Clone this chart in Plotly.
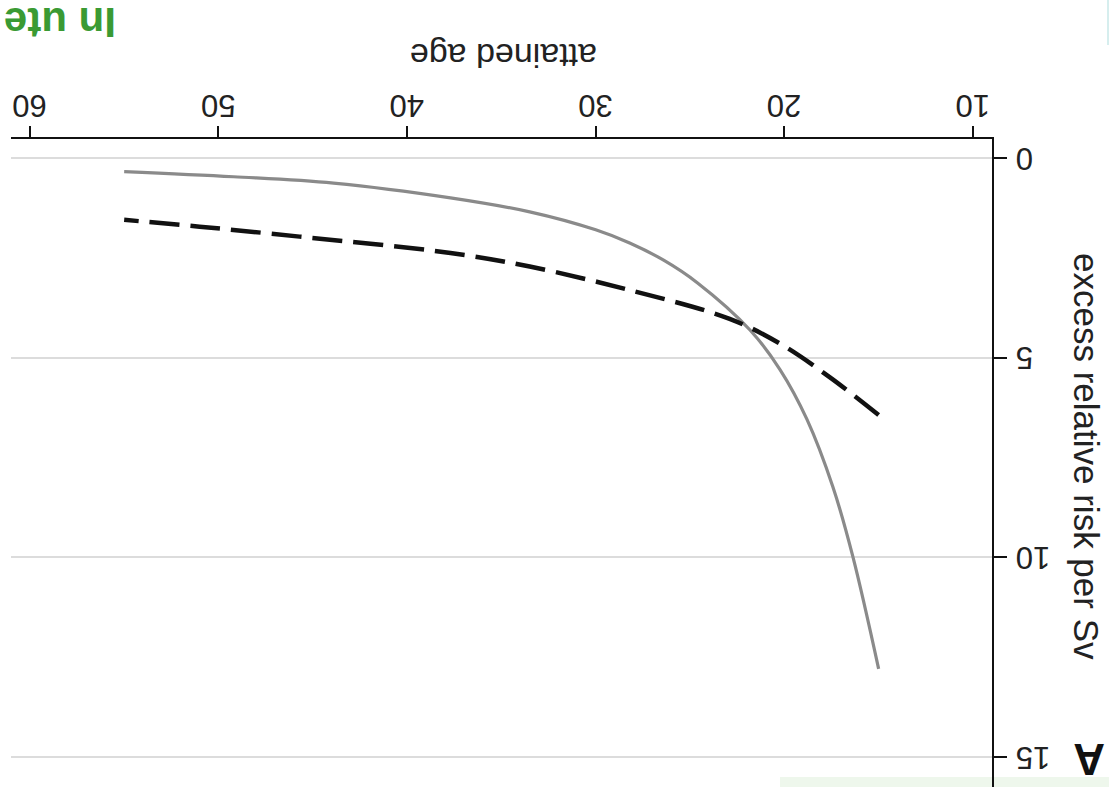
import plotly.graph_objects as go

# Data read from the (180°-rotated) reference chart
solid_age = [15.0, 16.36, 17.42, 18.8, 20.23, 21.82, 24.6, 26.4, 28.2, 30.0, 33.5, 37.7, 43.9, 49.2, 55.0]
solid_err = [12.8, 10.0, 8.25, 6.55, 5.30, 4.31, 3.13, 2.56, 2.13, 1.80, 1.35, 1.00, 0.63, 0.47, 0.34]

dashed_age = [15.0, 17.6, 20.2, 22.9, 28.2, 33.5, 37.7, 45.7, 51.0, 55.0]
dashed_err = [6.44, 5.49, 4.66, 4.03, 3.31, 2.72, 2.38, 1.97, 1.72, 1.55]

x_ticks = [10, 20, 30, 40, 50, 60]
x_tick_labels = ["10", "20", "30", "40", "50", "60"]
y_ticks = [0, 5, 10, 15]
y_tick_labels = ["0", "5", "10", "15"]

x_title = "attained age"
y_title = "excess relative risk per Sv"
corner_label = "In ute"
panel_label = "A"

W, H = 1109, 787
L, R, T, B = 11, 992, 139, 787  # plot area in pixels


def px(xp):
    return (xp - L) / (R - L)


def py(yp):
    return (B - yp) / (B - T)


FONT = "Liberation Sans, Arial, sans-serif"

fig = go.Figure()
fig.add_trace(go.Scatter(x=solid_age, y=solid_err, mode="lines",
                         line=dict(color="#8a8a8a", width=3.2, shape="spline", smoothing=1.0),
                         showlegend=False))
fig.add_trace(go.Scatter(x=dashed_age, y=dashed_err, mode="lines",
                         line=dict(color="#111111", width=4.5, dash="30px,11px", shape="spline", smoothing=1.0),
                         showlegend=False))

tickfont = dict(family=FONT, size=31, color="#222222")
# pad single digit labels with a figure space so all labels share one width
y_text = [t if len(t) == 2 else "\u2007" + t for t in y_tick_labels]

fig.update_layout(
    width=W, height=H,
    margin=dict(l=L, r=W - R, t=T, b=H - B, pad=0, autoexpand=False),
    paper_bgcolor="white", plot_bgcolor="white",
    xaxis=dict(side="top", range=[61.0, 8.99], tickvals=x_ticks, ticktext=x_tick_labels,
               ticks="outside", ticklen=11, tickwidth=2, tickcolor="#111",
               showline=True, linecolor="#111", linewidth=2,
               showgrid=False, zeroline=False, tickangle=180,
               ticklabelshift=-17, ticklabelstandoff=-12, ticklabeloverflow="allow",
               tickfont=tickfont, automargin=False),
    yaxis=dict(side="right", range=[15.76, -0.476], tickvals=y_ticks, ticktext=y_text,
               ticks="outside", ticklen=13, tickwidth=2, tickcolor="#111",
               showline=True, linecolor="#111", linewidth=2,
               showgrid=True, gridcolor="#dcdcdc", gridwidth=2,
               zeroline=False, tickangle=180,
               ticklabelshift=-10, ticklabelstandoff=37, ticklabeloverflow="allow",
               tickfont=tickfont, automargin=False),
)

fig.add_annotation(text=x_title, xref="paper", yref="paper", x=px(503), y=py(56),
                   xanchor="center", yanchor="middle",
                   showarrow=False, textangle=180,
                   font=dict(family=FONT, size=34, color="#222"))
fig.add_annotation(text=y_title, xref="paper", yref="paper", x=px(1086), y=py(456),
                   xanchor="center", yanchor="middle",
                   showarrow=False, textangle=90,
                   font=dict(family=FONT, size=35, color="#222"))
fig.add_annotation(text="<b>%s</b>" % corner_label, xref="paper", yref="paper", x=px(60), y=py(22),
                   xanchor="center", yanchor="middle",
                   showarrow=False, textangle=180,
                   font=dict(family=FONT, size=42, color="#3a9a33"))
fig.add_annotation(text="<b>%s</b>" % panel_label, xref="paper", yref="paper", x=px(1089), y=py(760),
                   xanchor="center", yanchor="middle",
                   showarrow=False, textangle=180,
                   font=dict(family=FONT, size=44, color="#111"))

fig.add_shape(type="rect", xref="paper", yref="paper", x0=px(780), x1=px(1109), y0=py(787), y1=py(777),
              fillcolor="#eef7ec", line=dict(width=0), layer="below")
fig.add_shape(type="line", xref="paper", yref="paper", x0=px(1108), x1=px(1108), y0=py(0), y1=py(45),
              line=dict(color="#d6eeee", width=2))

fig.write_html("out.html")
